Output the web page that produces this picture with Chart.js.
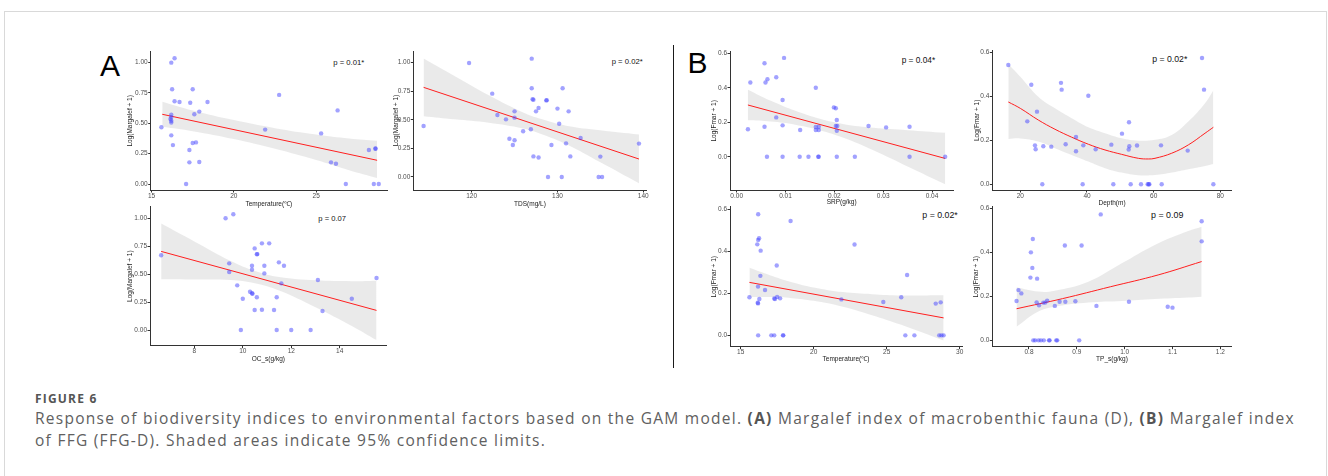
<!DOCTYPE html>
<html>
<head>
<meta charset="utf-8">
<script src="https://cdn.jsdelivr.net/npm/chart.js"></script>
<style>
body { margin: 0; background: #fff; width: 1328px; height: 476px; overflow: hidden; position: relative; font-family: 'Liberation Sans', Arial, sans-serif; }
#frame { position: absolute; left: 4px; top: 11px; width: 1321px; height: 480px; border: 1px solid #d9d9d9; }
canvas { position: absolute; }
.pv { position: absolute; color: #111; white-space: nowrap; }
.tag { position: absolute; font-size: 30px; line-height: 30px; color: #000; }
#divider { position: absolute; left: 673px; top: 45px; width: 1px; height: 323px; background: #1a1a1a; }
#figlabel { position: absolute; left: 35px; top: 391.6px; font-family: 'Open Sans', sans-serif; font-weight: 700; font-size: 12px; line-height: 14px; letter-spacing: 1.2px; color: #555; }
#caption { position: absolute; left: 35px; top: 407px; font-family: 'Open Sans', sans-serif; font-size: 15.5px; line-height: 22px; color: #606060; white-space: nowrap; }
#caption b { font-weight: 700; color: #555; }
</style>
</head>
<body>
<div id="frame"></div>
<div class="tag" style="left:100px;top:51px">A</div>
<div class="tag" style="left:687.6px;top:47.8px">B</div>
<div id="divider"></div>

<div class="pv" style="left:333.3px;top:58.6px;font-size:7.7px;line-height:7.7px">p = 0.01*</div>
<div class="pv" style="left:611.7px;top:57.6px;font-size:7.7px;line-height:7.7px">p = 0.02*</div>
<div class="pv" style="left:318.3px;top:215.2px;font-size:7.6px;line-height:7.6px">p = 0.07</div>
<div class="pv" style="left:901.7px;top:55.5px;font-size:8.3px;line-height:8.3px">p = 0.04*</div>
<div class="pv" style="left:1152.3px;top:54.8px;font-size:8.7px;line-height:8.7px">p = 0.02*</div>
<div class="pv" style="left:922.3px;top:210.7px;font-size:8.8px;line-height:8.8px">p = 0.02*</div>
<div class="pv" style="left:1151px;top:210.7px;font-size:8.9px;line-height:8.9px">p = 0.09</div>

<div id="figlabel">FIGURE 6</div>
<div id="caption"><span id="line1">Response of biodiversity indices to environmental factors based on the GAM model. <b>(A)</b> Margalef index of macrobenthic fauna (D), <b>(B)</b> Margalef index</span><br><span id="line2">of FFG (FFG-D). Shaded areas indicate 95% confidence limits.</span></div>

<script>
// ---- panel A1: temperature vs Margalef ----
const tempA = [15.6, 16.2, 16.4, 16.25, 16.4, 16.7, 16.2, 16.2, 16.15, 16.2, 16.2, 16.2, 16.3, 17.5, 17.35, 17.6, 17.9, 18.4, 17.5, 17.7, 17.3, 17.3, 17.9, 17.1, 21.9, 22.75, 25.3, 26.3, 25.9, 26.2, 26.8, 28.2, 28.6, 28.6, 28.5, 28.8];
const margA1 = [0.466, 0.997, 1.033, 0.778, 0.68, 0.674, 0.57, 0.55, 0.535, 0.52, 0.505, 0.40, 0.32, 0.778, 0.668, 0.573, 0.595, 0.674, 0.337, 0.342, 0.279, 0.178, 0.181, 0, 0.447, 0.732, 0.416, 0.605, 0.178, 0.167, 0, 0.279, 0.29, 0.292, 0, 0];
const a1FitX = [15.65, 28.7];
const a1FitY = [0.573, 0.195];
const a1BandX = [15.65, 17.5, 20, 22.5, 25, 27, 28.7];
const a1BandHi = [0.676, 0.604, 0.525, 0.459, 0.407, 0.374, 0.355];
const a1BandLo = [0.47, 0.434, 0.369, 0.289, 0.197, 0.114, 0.05];

// ---- panel A2: TDS vs Margalef ----
const tdsA = [114.4, 119.7, 122.4, 123.0, 124.0, 125.0, 125.0, 124.4, 124.8, 125.0, 126.0, 126.9, 127.0, 127.0, 127.1, 127.2, 127.5, 127.8, 128.7, 128.75, 127.2, 127.8, 128.9, 129.3, 130.0, 130.2, 130.6, 130.5, 131.0, 131.3, 131.5, 132.7, 135.0, 134.8, 135.2, 139.5];
const margA2 = [0.446, 0.997, 0.729, 0.542, 0.504, 0.574, 0.519, 0.335, 0.28, 0.321, 0.40, 0.417, 1.035, 0.776, 0.68, 0.676, 0.574, 0.603, 0.67, 0.672, 0.18, 0.17, 0, 0.28, 0.598, 0.466, 0.776, 0, 0.294, 0.574, 0.18, 0.341, 0.178, 0, 0, 0.292];
const a2FitX = [114.4, 139.5];
const a2FitY = [0.784, 0.157];
const a2BandX = [114.4, 118, 122, 126, 128, 131, 135, 139.5];
const a2BandHi = [1.036, 0.884, 0.714, 0.564, 0.509, 0.449, 0.409, 0.372];
const a2BandLo = [0.532, 0.504, 0.474, 0.424, 0.379, 0.289, 0.129, -0.055];

// ---- panel A3: OC_s vs Margalef ----
const ocA = [6.63, 9.29, 9.61, 9.44, 9.44, 9.77, 9.92, 10.0, 10.3, 10.38, 10.38, 10.38, 10.4, 10.49, 10.49, 10.58, 10.6, 10.58, 10.79, 10.79, 10.89, 10.89, 11.09, 11.29, 11.4, 11.4, 11.49, 11.59, 11.7, 12.0, 12.8, 13.1, 13.29, 14.5, 15.52];
const margA3 = [0.669, 1.0, 1.036, 0.597, 0.519, 0.40, 0, 0.28, 0.343, 0.576, 0.54, 0.33, 0.325, 0.731, 0.179, 0.678, 0.68, 0.293, 0.776, 0.182, 0.576, 0.507, 0.776, 0.179, 0.293, 0, 0.606, 0.418, 0.576, 0, 0, 0.448, 0.17, 0.28, 0.466];
const a3FitX = [6.63, 15.52];
const a3FitY = [0.704, 0.176];
const a3BandX = [6.63, 8, 9.5, 10.5, 11.5, 13, 14.5, 15.52];
const a3BandHi = [0.953, 0.793, 0.618, 0.529, 0.474, 0.445, 0.437, 0.442];
const a3BandLo = [0.455, 0.453, 0.448, 0.419, 0.354, 0.205, 0.037, -0.09];

// ---- panel B1: SRP vs Fmar ----
const srpB = [0.0023, 0.0028, 0.0057, 0.0059, 0.0063, 0.0057, 0.0062, 0.0081, 0.0081, 0.0094, 0.0094, 0.0094, 0.0097, 0.013, 0.0129, 0.0147, 0.0162, 0.0162, 0.0162, 0.0168, 0.0168, 0.0167, 0.0168, 0.0199, 0.0203, 0.0205, 0.0203, 0.0206, 0.0205, 0.0205, 0.0242, 0.027, 0.0306, 0.0354, 0.0354, 0.0427];
const fmarB1 = [0.159, 0.43, 0.542, 0.43, 0.449, 0.174, 0, 0.461, 0.228, 0.329, 0.182, 0, 0.573, 0.155, 0, 0, 0.40, 0.172, 0.155, 0.174, 0.155, 0, 0, 0.286, 0.281, 0.213, 0.178, 0.178, 0.151, 0, 0, 0.178, 0.17, 0.174, 0, 0];
const b1FitX = [0.0023, 0.0427];
const b1FitY = [0.30, -0.01];
const b1BandX = [0.0023, 0.007, 0.012, 0.017, 0.022, 0.028, 0.035, 0.0427];
const b1BandHi = [0.389, 0.324, 0.266, 0.22, 0.189, 0.168, 0.154, 0.139];
const b1BandLo = [0.211, 0.204, 0.186, 0.154, 0.109, 0.038, -0.056, -0.159];

// ---- panel B2: depth vs Fmar ----
const depthB = [16.4, 22.1, 23.3, 24.4, 24.6, 25.0, 26.6, 26.9, 29.3, 32.2, 32.4, 33.6, 36.7, 36.7, 38.7, 38.9, 40.4, 42.6, 47.3, 47.9, 50.5, 52.6, 52.5, 52.7, 53.1, 55.0, 56.2, 58.2, 58.5, 58.7, 62.2, 62.4, 70.2, 74.5, 75.1, 77.9];
const fmarB2 = [0.542, 0.286, 0.452, 0.177, 0.159, 0.33, 0, 0.173, 0.171, 0.461, 0.43, 0.182, 0.215, 0.15, 0, 0.177, 0.402, 0.159, 0.18, 0, 0.23, 0.282, 0.158, 0.173, 0, 0.176, 0, 0, 0, 0, 0.177, 0, 0.153, 0.574, 0.43, 0];
const b2FitX = [16.4, 20, 25.4, 30.4, 35.4, 40.4, 45.4, 50.4, 55.4, 58.4, 60.4, 65.4, 70.4, 75.4, 77.9];
const b2FitY = [0.374, 0.345, 0.292, 0.25, 0.214, 0.182, 0.156, 0.136, 0.118, 0.115, 0.118, 0.141, 0.179, 0.232, 0.259];
const b2BandX = [16.4, 20, 25.4, 30.4, 35.4, 40.4, 45.4, 50.4, 55.4, 60.4, 65.4, 70.4, 75.4, 77.9];
const b2BandHi = [0.547, 0.489, 0.398, 0.345, 0.30, 0.259, 0.232, 0.209, 0.198, 0.202, 0.224, 0.285, 0.368, 0.426];
const b2BandLo = [0.206, 0.208, 0.194, 0.164, 0.133, 0.103, 0.073, 0.053, 0.041, 0.042, 0.053, 0.068, 0.083, 0.092];

// ---- panel B3: temperature vs Fmar ----
const tempB = [15.6, 16.2, 16.26, 16.2, 16.14, 16.37, 16.35, 16.19, 16.28, 16.17, 16.19, 16.2, 16.67, 17.47, 17.3, 17.35, 17.5, 17.7, 17.1, 17.3, 17.9, 17.92, 18.42, 21.9, 22.8, 24.77, 26.0, 26.4, 26.28, 26.9, 28.36, 28.7, 28.6, 28.75, 28.9];
const fmarB3 = [0.181, 0.576, 0.462, 0.454, 0.433, 0.403, 0.283, 0.232, 0.173, 0.155, 0.152, 0, 0.216, 0.332, 0.175, 0.173, 0.183, 0.176, 0, 0, 0, 0, 0.544, 0.171, 0.432, 0.159, 0.181, 0.287, 0, 0, 0.151, 0.157, 0, 0, 0];
const b3FitX = [15.6, 28.9];
const b3FitY = [0.252, 0.083];
const b3BandX = [15.6, 17, 18.5, 20, 22, 24, 26, 28.9];
const b3BandHi = [0.321, 0.286, 0.253, 0.228, 0.206, 0.196, 0.19, 0.191];
const b3BandLo = [0.183, 0.182, 0.177, 0.164, 0.136, 0.096, 0.05, -0.025];

// ---- panel B4: TP_s vs Fmar ----
const tpB = [0.774, 0.778, 0.784, 0.803, 0.804, 0.807, 0.808, 0.817, 0.816, 0.821, 0.83, 0.834, 0.838, 0.854, 0.864, 0.875, 0.876, 0.897, 0.91, 0.941, 0.95, 1.009, 1.09, 1.1, 1.161, 1.161, 0.809, 0.813, 0.82, 0.825, 0.831, 0.842, 0.843, 0.857, 0.859, 0.905];
const fmarB4 = [0.179, 0.229, 0.214, 0.286, 0.401, 0.33, 0.462, 0.281, 0.173, 0.16, 0.172, 0.172, 0.181, 0.157, 0.176, 0.432, 0.176, 0.178, 0.432, 0.157, 0.574, 0.176, 0.153, 0.149, 0.543, 0.451, 0, 0, 0, 0, 0, 0, 0, 0, 0, 0];
const b4FitX = [0.774, 0.87, 0.97, 1.07, 1.161];
const b4FitY = [0.144, 0.19, 0.244, 0.298, 0.359];
const b4BandX = [0.774, 0.8195, 0.854, 0.924, 0.994, 1.063, 1.133, 1.161];
const b4BandHi = [0.242, 0.222, 0.226, 0.267, 0.351, 0.435, 0.498, 0.518];
const b4BandLo = [0.062, 0.131, 0.153, 0.172, 0.179, 0.188, 0.195, 0.199];

// ---- tick values / labels ----
const yTicksA = [0, 0.25, 0.5, 0.75, 1.0];
const yLabelsA = ['0.00', '0.25', '0.50', '0.75', '1.00'];
const yTicksB = [0, 0.2, 0.4, 0.6];
const yLabelsB = ['0.0', '0.2', '0.4', '0.6'];
const xTicksTempA = [15, 20, 25];
const xTicksTds = [120, 130, 140];
const xTicksOc = [8, 10, 12, 14];
const xTicksSrp = [0, 0.01, 0.02, 0.03, 0.04];
const xLabelsSrp = ['0.00', '0.01', '0.02', '0.03', '0.04'];
const xTicksDepth = [20, 40, 60, 80];
const xTicksTempB = [15, 20, 25, 30];
const xTicksTp = [0.8, 0.9, 1.0, 1.1, 1.2];
const xLabelsTp = ['0.8', '0.9', '1.0', '1.1', '1.2'];

const POINT_COLOR = 'rgba(70,70,255,0.5)';
const BAND_COLOR = 'rgba(200,200,200,0.38)';
const LINE_COLOR = '#ff1f1f';
const FONT = "'Liberation Sans', Arial, sans-serif";
const FS = 6.5;
const EXTRA = 3; // room under the x title for descenders

function pts(xs, ys) {
    return xs.map((x, i) => ({x: x, y: ys[i]}));
}

function makePanel(p) {
    const cl = Math.round(p.titleX - FS / 2);
    const ct = Math.floor(p.T) - 6;
    const cw = Math.ceil(p.R + 14 - cl);
    const ch = Math.round(p.B + p.titleOff + FS / 2 - ct) + EXTRA;

    const canvas = document.createElement('canvas');
    canvas.width = cw; canvas.height = ch;
    canvas.style.left = cl + 'px'; canvas.style.top = ct + 'px';
    canvas.style.width = cw + 'px'; canvas.style.height = ch + 'px';
    document.body.appendChild(canvas);

    const xLabels = p.xLabels || p.xTicks.map(String);

    new Chart(canvas, {
        type: 'scatter',
        data: {
            datasets: [
                { data: pts(p.x, p.y), backgroundColor: POINT_COLOR, pointRadius: 2.2, pointBorderWidth: 0, borderColor: 'transparent', showLine: false },
                { data: pts(p.fitX, p.fitY), showLine: true, borderColor: LINE_COLOR, borderWidth: 1, pointRadius: 0, tension: p.fitX.length > 2 ? 0.4 : 0, fill: false },
                { data: pts(p.bandX, p.bandHi), showLine: true, borderColor: 'transparent', borderWidth: 0, pointRadius: 0, tension: 0.4, fill: '+1', backgroundColor: BAND_COLOR },
                { data: pts(p.bandX, p.bandLo), showLine: true, borderColor: 'transparent', borderWidth: 0, pointRadius: 0, tension: 0.4, fill: false }
            ]
        },
        options: {
            responsive: false,
            animation: false,
            devicePixelRatio: 1,
            layout: { padding: { top: p.T - ct, right: cl + cw - p.R, left: 0, bottom: 0 } },
            plugins: { legend: { display: false }, tooltip: { enabled: false } },
            scales: {
                x: {
                    type: 'linear', min: p.xMin, max: p.xMax,
                    afterBuildTicks: s => { s.ticks = p.xTicks.map(v => ({value: v})); },
                    afterFit: s => { s.height = ct + ch - p.B; },
                    ticks: { callback: (v, i) => xLabels[i], font: { family: FONT, size: FS, lineHeight: 1 }, color: '#4d4d4d', padding: 0, maxRotation: 0 },
                    grid: { drawOnChartArea: false, drawTicks: true, tickLength: 2.5, color: '#333' },
                    border: { display: true, color: '#333', width: 1 },
                    title: { display: true, text: p.xTitle, font: { family: FONT, size: FS, lineHeight: 1 }, color: '#1a1a1a', padding: { top: 0, bottom: EXTRA } }
                },
                y: {
                    type: 'linear', min: p.yMin, max: p.yMax,
                    afterBuildTicks: s => { s.ticks = p.yTicks.map(v => ({value: v})); },
                    afterFit: s => { s.width = p.L - cl; },
                    ticks: { callback: (v, i) => p.yLabels[i], font: { family: FONT, size: FS, lineHeight: 1 }, color: '#4d4d4d', padding: 0.5 },
                    grid: { drawOnChartArea: false, drawTicks: true, tickLength: 2.5, color: '#333' },
                    border: { display: true, color: '#333', width: 1 },
                    title: { display: true, text: p.yTitle, font: { family: FONT, size: FS, lineHeight: 1 }, color: '#1a1a1a', padding: 0 }
                }
            }
        }
    });
}

const panels = [
    { x: tempA, y: margA1, fitX: a1FitX, fitY: a1FitY, bandX: a1BandX, bandHi: a1BandHi, bandLo: a1BandLo,
      xTicks: xTicksTempA, yTicks: yTicksA, yLabels: yLabelsA, xTitle: 'Temperature(℃)', yTitle: 'Log(Margalef + 1)',
      L: 150.7, R: 387, T: 51.7, B: 190, xMin: 14.95, xMax: 29.3, yMin: -0.049, yMax: 1.087, titleX: 130.7, titleOff: 13.4 },
    { x: tdsA, y: margA2, fitX: a2FitX, fitY: a2FitY, bandX: a2BandX, bandHi: a2BandHi, bandLo: a2BandLo,
      xTicks: xTicksTds, yTicks: yTicksA, yLabels: yLabelsA, xTitle: 'TDS(mg/L)', yTitle: 'Log(Margalef + 1)',
      L: 413.3, R: 646.7, T: 51, B: 190, xMin: 113.2, xMax: 140.4, yMin: -0.114, yMax: 1.102, titleX: 396.7, titleOff: 13.4 },
    { x: ocA, y: margA3, fitX: a3FitX, fitY: a3FitY, bandX: a3BandX, bandHi: a3BandHi, bandLo: a3BandLo,
      xTicks: xTicksOc, yTicks: yTicksA, yLabels: yLabelsA, xTitle: 'OC_s(g/kg)', yTitle: 'Log(Margalef + 1)',
      L: 150, R: 386.7, T: 206.7, B: 345.7, xMin: 6.17, xMax: 15.94, yMin: -0.14, yMax: 1.104, titleX: 130.7, titleOff: 13 },
    { x: srpB, y: fmarB1, fitX: b1FitX, fitY: b1FitY, bandX: b1BandX, bandHi: b1BandHi, bandLo: b1BandLo,
      xTicks: xTicksSrp, xLabels: xLabelsSrp, yTicks: yTicksB, yLabels: yLabelsB, xTitle: 'SRP(g/kg)', yTitle: 'Log(Fmar + 1)',
      L: 730, R: 953.3, T: 51.7, B: 190, xMin: -0.00137, xMax: 0.04436, yMin: -0.193, yMax: 0.609, titleX: 714.3, titleOff: 11.8 },
    { x: depthB, y: fmarB2, fitX: b2FitX, fitY: b2FitY, bandX: b2BandX, bandHi: b2BandHi, bandLo: b2BandLo,
      xTicks: xTicksDepth, yTicks: yTicksB, yLabels: yLabelsB, xTitle: 'Depth(m)', yTitle: 'Log(Fmar + 1)',
      L: 992.3, R: 1231.7, T: 50.7, B: 190, xMin: 11.6, xMax: 83.4, yMin: -0.026, yMax: 0.607, titleX: 977.7, titleOff: 12.3 },
    { x: tempB, y: fmarB3, fitX: b3FitX, fitY: b3FitY, bandX: b3BandX, bandHi: b3BandHi, bandLo: b3BandLo,
      xTicks: xTicksTempB, yTicks: yTicksB, yLabels: yLabelsB, xTitle: 'Temperature(℃)', yTitle: 'Log(Fmar + 1)',
      L: 730, R: 962, T: 206.7, B: 346.7, xMin: 14.27, xMax: 30.16, yMin: -0.054, yMax: 0.612, titleX: 714.3, titleOff: 11.8 },
    { x: tpB, y: fmarB4, fitX: b4FitX, fitY: b4FitY, bandX: b4BandX, bandHi: b4BandHi, bandLo: b4BandLo,
      xTicks: xTicksTp, xLabels: xLabelsTp, yTicks: yTicksB, yLabels: yLabelsB, xTitle: 'TP_s(g/kg)', yTitle: 'Log(Fmar + 1)',
      L: 992.3, R: 1231.7, T: 206.7, B: 346.7, xMin: 0.7233, xMax: 1.2238, yMin: -0.029, yMax: 0.609, titleX: 976.7, titleOff: 11.8 }
];

panels.forEach(makePanel);

// stretch the caption's first line to the width it has in the figure
const line1 = document.getElementById('line1');
const chars = line1.textContent.length;
const gap = (1260 - line1.getBoundingClientRect().width) / chars;
document.getElementById('caption').style.letterSpacing = gap.toFixed(3) + 'px';
</script>
</body>
</html>
